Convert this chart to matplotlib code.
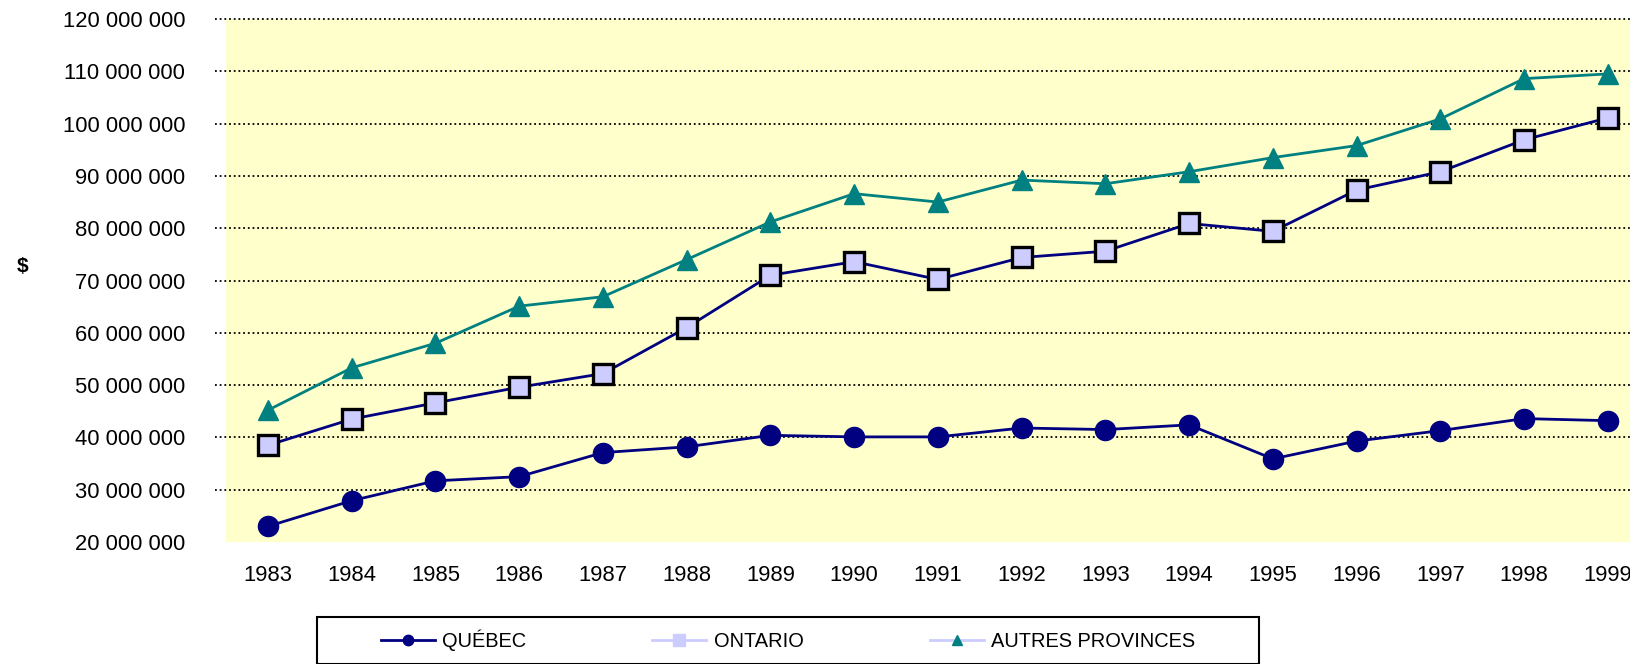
import matplotlib.pyplot as plt
from matplotlib.lines import Line2D
from matplotlib.patches import Rectangle
from matplotlib.ticker import FuncFormatter

plt.rcParams['font.family'] = ['Liberation Sans', 'DejaVu Sans']

years = list(range(1983, 2000))
quebec = [23.0, 27.9, 31.7, 32.5, 37.1, 38.2, 40.4, 40.1, 40.1, 41.8, 41.5, 42.4,
          35.9, 39.3, 41.3, 43.6, 43.2]
ontario = [38.5, 43.5, 46.6, 49.6, 52.2, 61.0, 71.0, 73.6, 70.2, 74.4, 75.6, 80.9,
           79.4, 87.3, 90.8, 96.9, 101.1]
autres = [45.2, 53.3, 58.0, 65.1, 66.9, 74.0, 81.2, 86.6, 85.0, 89.2, 88.5, 90.8,
          93.5, 95.8, 100.9, 108.6, 109.5]
yticks = list(range(20, 121, 10))

navy = '#000080'
teal = '#008080'
lav = '#CCCCFF'

fig = plt.figure(figsize=(16.31, 6.64), dpi=100)
ax = fig.add_axes([0.1386, 0.1837, 0.8729, 0.7877])
ax.set_facecolor('#FFFFCC')
for s in ax.spines.values():
    s.set_visible(False)

m = 1e6
ax.plot(years, [v * m for v in quebec], color=navy, lw=2, marker='o', ms=14.5,
        mfc=navy, mec=navy, zorder=3)
ax.plot(years, [v * m for v in ontario], color=navy, lw=2, marker='s', ms=14,
        mfc=lav, mec='black', mew=2.4, zorder=4)
ax.plot(years, [v * m for v in autres], color=teal, lw=2, marker='^', ms=15,
        mfc=teal, mec=teal, zorder=3)

ax.set_xlim(1982.5, 1999.5)
ax.set_ylim(20 * m, 120 * m)
ax.set_xticks(years)
ax.set_yticks([t * m for t in yticks])
ax.yaxis.set_major_formatter(FuncFormatter(lambda v, p: f"{v:,.0f}".replace(",", " ")))
ax.tick_params(axis='y', length=0, pad=29.5, labelsize=15.8)
ax.tick_params(axis='x', length=0, pad=16.5, labelsize=15.8)

# pointillés (un peu avant la zone de tracé, comme Excel)
for t in yticks[1:]:
    ax.plot([-0.0075, 1], [t * m, t * m], transform=ax.get_yaxis_transform(),
            ls=(0, (1, 1.6)), color='black', lw=1.3, clip_on=False, zorder=1)

fig.text(23 / 1631, 1 - 266 / 664, '$', fontsize=15, fontweight='bold',
         ha='center', va='center')

# légende
fig.add_artist(Rectangle((317 / 1631, 0), (1259 - 317) / 1631, (664 - 617) / 664,
                         transform=fig.transFigure, fill=False, ec='black', lw=1.5))
handles = [
    Line2D([], [], color=navy, lw=2, marker='o', ms=7.5, mfc=navy, mec=navy),
    Line2D([], [], color=lav, lw=2, marker='s', ms=9, mfc=lav, mec=lav),
    Line2D([], [], color=lav, lw=2, marker='^', ms=7, mfc=teal, mec=teal),
]
fig.legend(handles, ['QUÉBEC', 'ONTARIO', 'AUTRES PROVINCES'], ncol=3,
           loc='center', bbox_to_anchor=(788 / 1631, 1 - 640 / 664),
           frameon=False, fontsize=14.4, handlelength=2.7, handletextpad=0.36,
           columnspacing=6.3)

fig.savefig('out.png', dpi=100)
